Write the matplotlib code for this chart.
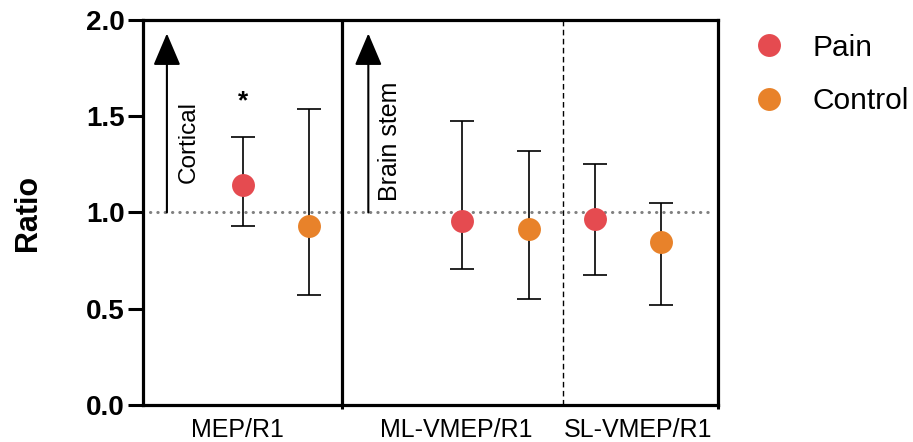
import numpy as np
import matplotlib
matplotlib.use("Agg")
from matplotlib import pyplot as plt

plt.rcParams['font.family'] = ['Liberation Sans', 'DejaVu Sans']

# data
groups = ['Pain', 'Control']
colors = ['#E54B50', '#E8822A']
categories = ['MEP/R1', 'ML-VMEP/R1', 'SL-VMEP/R1']
pain_mean = [1.145, 0.958, 0.967]
pain_hi = [1.39, 1.474, 1.253]
pain_lo = [0.93, 0.704, 0.676]
ctrl_mean = [0.93, 0.912, 0.848]
ctrl_hi = [1.535, 1.32, 1.05]
ctrl_lo = [0.574, 0.55, 0.52]

pain_x = [1.5, 4.8, 6.8]
ctrl_x = [2.5, 5.8, 7.8]
label_x = [1.42, 4.72, 7.45]


def main():
    fig = plt.figure(figsize=(9.13, 4.42), dpi=100)
    ax = fig.add_axes([0.1566, 0.0837, 0.6298, 0.8711])

    # reference line
    ax.plot([0.1, 8.55], [1.0, 1.0], linestyle=(0, (0.1, 2.3)), color='#808080',
            lw=2.2, dash_capstyle='round', zorder=1)

    series = [(pain_x, pain_mean, pain_lo, pain_hi),
              (ctrl_x, ctrl_mean, ctrl_lo, ctrl_hi)]
    for (xs, m, lo, hi), c, g in zip(series, colors, groups):
        m = np.array(m)
        err = [m - np.array(lo), np.array(hi) - m]
        ax.errorbar(xs, m, yerr=err, fmt='none', ecolor='black', elinewidth=1.2,
                    capsize=8.5, capthick=1.2, zorder=2)
        ax.plot(xs, m, 'o', color=c, markersize=16.5, markeredgewidth=0,
                label=g, zorder=3)

    # section separators
    ax.axvline(3.0, color='black', lw=2.3, zorder=4)
    ax.axvline(6.32, color='black', lw=1.0, linestyle=(0, (4, 2.5)), zorder=1)

    # arrows
    for xa in [0.36, 3.39]:
        ax.annotate('', xy=(xa, 1.93), xytext=(xa, 1.0),
                    arrowprops=dict(arrowstyle='-|>,head_length=2.0,head_width=0.85',
                                    color='black', lw=1.5, shrinkA=0, shrinkB=0))
    ax.text(0.69, 1.155, 'Cortical', rotation=90, ha='center', va='bottom', fontsize=17.5)
    ax.text(3.71, 1.06, 'Brain stem', rotation=90, ha='center', va='bottom', fontsize=18)
    ax.text(1.5, 1.58, '*', ha='center', va='center', fontsize=19, fontweight='bold')

    ax.set_xlim(0, 8.65)
    ax.set_ylim(0, 2.0)
    ax.set_yticks([0.0, 0.5, 1.0, 1.5, 2.0])
    ax.set_yticklabels(['0.0', '0.5', '1.0', '1.5', '2.0'], fontsize=20, fontweight='bold')
    ax.tick_params(axis='y', length=11, width=2.2, pad=2)
    ax.set_xticks([3.0, 8.65])
    ax.set_xticklabels([])
    ax.tick_params(axis='x', length=3, width=2.2)
    for xl, name in zip(label_x, categories):
        ax.text(xl, -0.13, name, ha='center', va='center', fontsize=18)
    ax.set_ylabel('Ratio', fontsize=22, fontweight='bold', labelpad=31)
    for s in ax.spines.values():
        s.set_linewidth(2.3)

    ax.legend(loc='upper left', bbox_to_anchor=(1.042, 0.995), frameon=False,
              fontsize=21.5, handletextpad=0.95, labelspacing=0.85, borderaxespad=0.0,
              handlelength=1.0)

    fig.savefig('out.png', dpi=100)


if __name__ == '__main__':
    main()
